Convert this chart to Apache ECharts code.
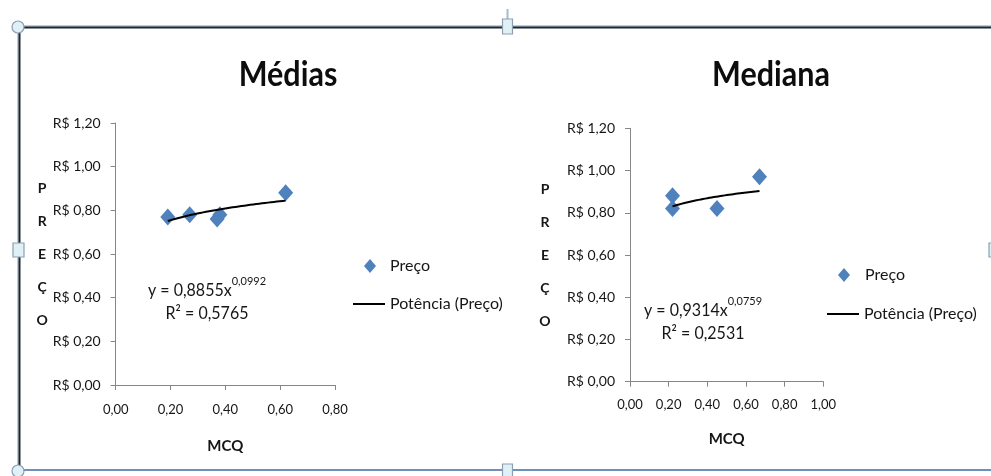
<!DOCTYPE html>
<html>
<head>
<meta charset="utf-8">
<script src="https://cdn.jsdelivr.net/npm/echarts@6/dist/echarts.min.js"></script>
<style>
  html, body { margin: 0; padding: 0; background: #fff; }
  #chart { width: 991px; height: 476px; }
</style>
</head>
<body>
<div id="chart"></div>
<script>
// Preço vs MCQ — médias
const mediasX = [0.19, 0.27, 0.37, 0.38, 0.62];
const mediasY = [0.77, 0.78, 0.76, 0.78, 0.88];
// Preço vs MCQ — medianas
const medianaX = [0.22, 0.22, 0.45, 0.67];
const medianaY = [0.88, 0.82, 0.82, 0.97];

// Power trend lines y = a·x^b and their R²
const mediasFit = { a: 0.8855, b: 0.0992, r2: 0.5765 };
const medianaFit = { a: 0.9314, b: 0.0759, r2: 0.2531 };

const titles = ['Médias', 'Mediana'];
const yTicks = { min: 0, max: 1.2, interval: 0.2 };
const xMaxes = [0.8, 1.0];

const FONT = "Lato, 'Open Sans', sans-serif";
const TXT = '#161616';

const fmt = (v) => v.toFixed(2).replace('.', ',');

function pairs(xs, ys) { return xs.map((x, i) => [x, ys[i]]); }

// sample the fitted power curve across the data range
function trend(xs, fit) {
  const lo = Math.min(...xs), hi = Math.max(...xs);
  const out = [];
  const n = 40;
  for (let i = 0; i <= n; i++) {
    const x = lo + (hi - lo) * i / n;
    out.push([x, fit.a * Math.pow(x, fit.b)]);
  }
  return out;
}

const grids = [
  { left: 115.7, top: 123, width: 219.3, height: 262 },
  { left: 630, top: 128.3, width: 193.3, height: 253.4 }
];

const axisLine = { show: true, lineStyle: { color: '#868686', width: 1 } };
const axisTick = { show: true, inside: false, length: 5, lineStyle: { color: '#868686' } };

const xAxes = xMaxes.map((mx, i) => ({
  type: 'value', gridIndex: i, min: 0, max: mx, interval: 0.2,
  axisLine, axisTick, splitLine: { show: false },
  axisLabel: { formatter: fmt, fontFamily: FONT, fontSize: 13, color: TXT, margin: i === 0 ? 18 : 17 },
  name: 'MCQ', nameLocation: 'middle', nameGap: i === 0 ? 54 : 50,
  nameTextStyle: { fontFamily: FONT, fontSize: 15, fontWeight: 'bold', color: TXT }
}));

const yAxes = [0, 1].map((i) => ({
  type: 'value', gridIndex: i, min: yTicks.min, max: yTicks.max, interval: yTicks.interval,
  axisLine, axisTick, splitLine: { show: false },
  axisLabel: { formatter: (v) => 'R$ ' + fmt(v), fontFamily: FONT, fontSize: 14, color: TXT, margin: 15 },
  name: 'P\nR\nE\nÇ\nO', nameLocation: 'middle', nameRotate: 0, nameGap: i === 0 ? 64 : 85,
  nameTextStyle: { fontFamily: FONT, fontSize: 14, fontWeight: 'bold', color: TXT, lineHeight: 33, align: 'center' }
}));

const diamond = { color: '#4f81bd', opacity: 1 };

const series = [
  { name: 'Preço', type: 'scatter', xAxisIndex: 0, yAxisIndex: 0, data: pairs(mediasX, mediasY),
    symbol: 'diamond', symbolSize: [15, 17], itemStyle: diamond },
  { name: 'Potência (Preço)', type: 'line', xAxisIndex: 0, yAxisIndex: 0, data: trend(mediasX, mediasFit),
    showSymbol: false, symbol: 'none', itemStyle: { color: '#000' }, lineStyle: { color: '#000', width: 2 } },
  { name: 'Preço', type: 'scatter', xAxisIndex: 1, yAxisIndex: 1, data: pairs(medianaX, medianaY),
    symbol: 'diamond', symbolSize: [15, 17], itemStyle: diamond },
  { name: 'Potência (Preço)', type: 'line', xAxisIndex: 1, yAxisIndex: 1, data: trend(medianaX, medianaFit),
    showSymbol: false, symbol: 'none', itemStyle: { color: '#000' }, lineStyle: { color: '#000', width: 2 } }
];

const legendText = { fontFamily: FONT, fontSize: 16, color: TXT };
function legendItem(name, icon, left, top, w, h, pad) {
  return {
    data: [{ name, icon }], left, top, orient: 'vertical', selectedMode: false,
    itemWidth: w, itemHeight: h, padding: 0,
    textStyle: Object.assign({ padding: [0, 0, 0, pad] }, legendText)
  };
}
const legends = [
  legendItem('Preço', 'diamond', 364, 258, 12, 14, 9),
  legendItem('Potência (Preço)', 'rect', 353, 296, 32, 2, 0),
  legendItem('Preço', 'diamond', 838, 267, 12, 14, 10),
  legendItem('Potência (Preço)', 'rect', 827, 306, 32, 2, 0)
];

function equation(fit, cx, cy) {
  return [
    { type: 'text', x: cx, y: cy, scaleY: 1.1, style: {
        text: '{m|y = ' + fit.a.toFixed(4).replace('.', ',') + 'x}{s|' + fit.b.toFixed(4).replace('.', ',') + '}',
        align: 'center', verticalAlign: 'middle',
        rich: {
          m: { fontFamily: FONT, fontSize: 16, fill: TXT, lineHeight: 22, verticalAlign: 'bottom' },
          s: { fontFamily: FONT, fontSize: 11, fill: TXT, lineHeight: 22, verticalAlign: 'top' }
        } } },
    { type: 'text', x: cx, y: cy + 26, scaleY: 1.1, style: {
        text: 'R² = ' + fit.r2.toFixed(4).replace('.', ','),
        align: 'center', verticalAlign: 'middle', fontFamily: FONT, fontSize: 16, fill: TXT } }
  ];
}

// selection frame drawn around the pair of charts
const handleFill = '#dff0f7', handleStroke = '#8e9fb0';
const frame = [
  { type: 'rect', shape: { x: 18, y: 25.5, width: 973, height: 1 }, style: { fill: '#7d9bc0' } },
  { type: 'rect', shape: { x: 18, y: 26.5, width: 973, height: 2 }, style: { fill: '#1d2631' } },
  { type: 'rect', shape: { x: 17.5, y: 27, width: 1, height: 443 }, style: { fill: '#7d9bc0' } },
  { type: 'rect', shape: { x: 18.5, y: 27, width: 2, height: 443 }, style: { fill: '#1d2631' } },
  { type: 'rect', shape: { x: 18, y: 469, width: 973, height: 2 }, style: { fill: '#6f8fbe' } },
  { type: 'line', shape: { x1: 507.5, y1: 9, x2: 507.5, y2: 20 }, style: { stroke: '#a9bacb', lineWidth: 2 } },
  { type: 'circle', shape: { cx: 18, cy: 27, r: 6 }, style: { fill: handleFill, stroke: handleStroke, lineWidth: 1.2 } },
  { type: 'circle', shape: { cx: 18, cy: 471, r: 6 }, style: { fill: handleFill, stroke: handleStroke, lineWidth: 1.2 } },
  { type: 'rect', shape: { x: 502.5, y: 19, width: 10, height: 15 }, style: { fill: handleFill, stroke: handleStroke, lineWidth: 1.2 } },
  { type: 'rect', shape: { x: 13, y: 243, width: 11, height: 14 }, style: { fill: handleFill, stroke: handleStroke, lineWidth: 1.2 } },
  { type: 'rect', shape: { x: 502.5, y: 464, width: 10, height: 14 }, style: { fill: handleFill, stroke: handleStroke, lineWidth: 1.2 } },
  { type: 'rect', shape: { x: 989, y: 243, width: 8, height: 14 }, style: { fill: handleFill, stroke: handleStroke, lineWidth: 1.2 } }
];

const titleTexts = titles.map((t, i) => ({
  type: 'text', x: i === 0 ? 288 : 771, y: 75, scaleY: 1.15,
  style: { text: t, align: 'center', verticalAlign: 'middle',
    fontFamily: FONT, fontSize: 30.5, fontWeight: 'bold', fill: '#0d0d0d' }
}));

const chart = echarts.init(document.getElementById('chart'), null, { renderer: 'canvas' });
chart.setOption({
  animation: false,
  backgroundColor: '#ffffff',
  grid: grids,
  xAxis: xAxes,
  yAxis: yAxes,
  legend: legends,
  series,
  graphic: [].concat(frame, titleTexts, equation(mediasFit, 207, 287), equation(medianaFit, 703, 307))
});
</script>
</body>
</html>
